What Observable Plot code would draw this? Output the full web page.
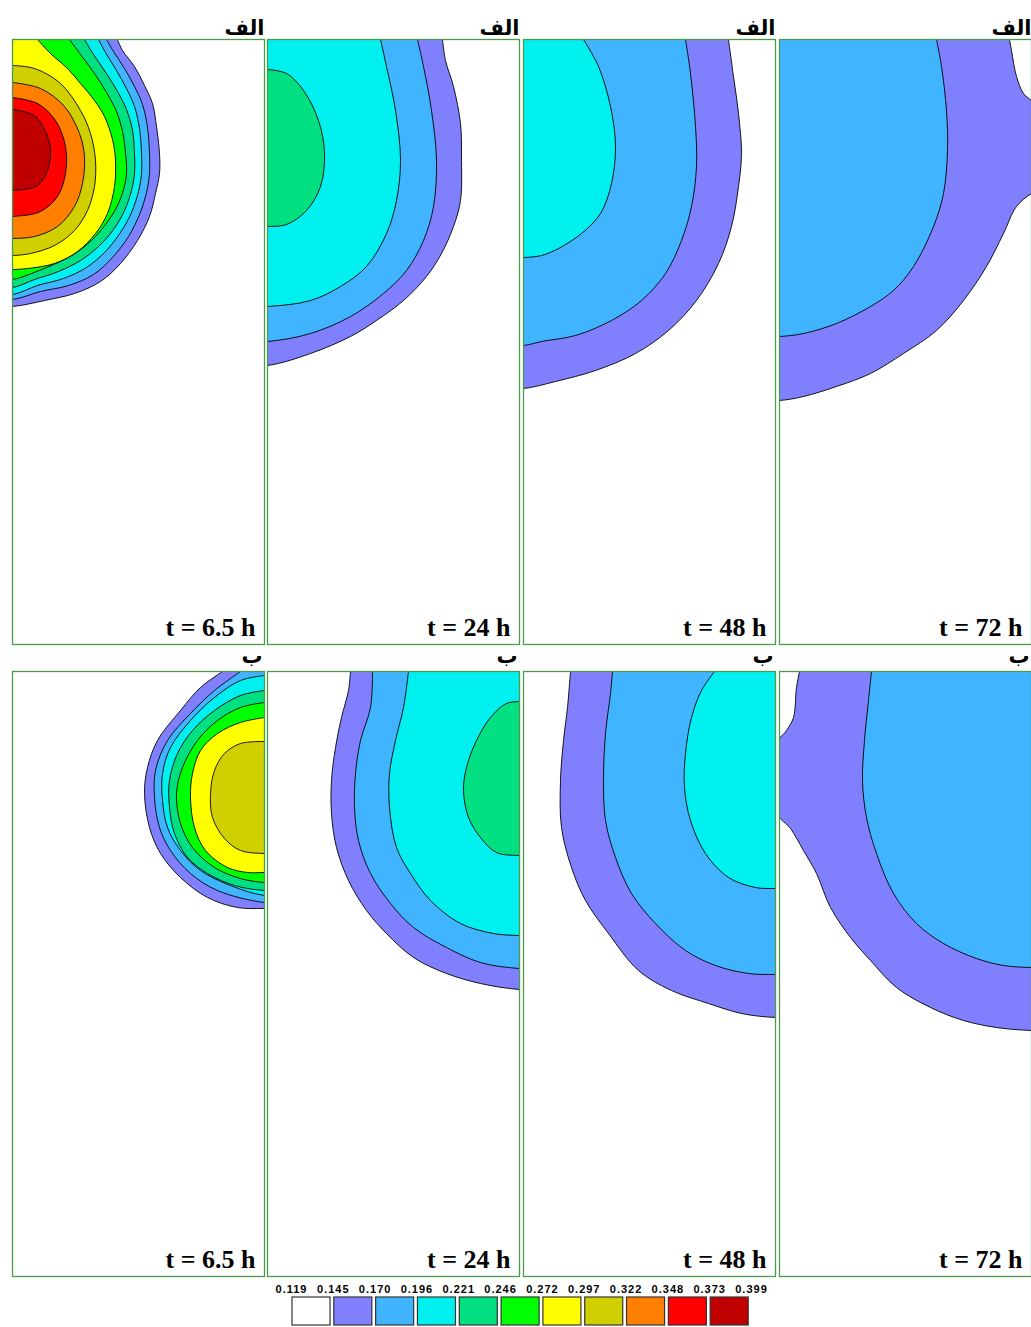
<!DOCTYPE html>
<html><head><meta charset="utf-8">
<script src="https://cdn.jsdelivr.net/npm/d3@7"></script>
<script src="https://cdn.jsdelivr.net/npm/@observablehq/plot@0.6"></script>
<style>
body{margin:0;background:#fff;}
#chart{position:relative;width:1031px;height:1327px;overflow:hidden;background:#fff;}
#chart svg{position:absolute;}
</style></head><body><div id="chart"></div>
<script>
// ---- data ----
const levels = [0.119,0.145,0.170,0.196,0.221,0.246,0.272,0.297,0.322,0.348,0.373,0.399];
const palette = ["#FFFFFF","#8080FF","#40B4FF","#00F0F0","#00E080","#00FF00","#FFFF00","#D0D000","#FF8000","#FF0000","#C00000"];
const times = ["t = 6.5 h","t = 24 h","t = 48 h","t = 72 h"];
const rowLabels = ["الف","ب"];

// contour lines per panel: level = lower bound of the region enclosed; pts = [x, depth] (panel units)
const panelA1 = [
  {level:0.145, close:"TL", pts:[[105,0],[110,11],[122,27],[132,46],[140,64],[144,87],[147,114],[147,134],[143,154],[137,177],[125,201],[108,224],[88,242],[62,254],[32,261],[0,267]]},
  {level:0.170, close:"TL", pts:[[94,0],[101,12],[112,29],[122,47],[130,65],[135,88],[137,114],[137,134],[134,153],[127,175],[116,197],[100,218],[81,235],[56,246],[28,252],[0,260]]},
  {level:0.196, close:"TL", pts:[[86,0],[93,13],[104,31],[114,49],[122,67],[127,89],[129,114],[129,134],[126,152],[119,173],[108,193],[93,212],[74,228],[51,239],[25,246],[0,255]]},
  {level:0.221, close:"TL", pts:[[72,0],[81,15],[94,34],[105,52],[114,70],[120,91],[122,114],[122,134],[119,151],[112,171],[101,190],[86,207],[68,221],[46,232],[22,240],[0,248]]},
  {level:0.246, close:"TL", pts:[[57,0],[68,15],[82,34],[94,53],[104,72],[110,92],[113,114],[114,134],[111,150],[104,168],[93,185],[79,201],[61,215],[41,225],[19,234],[0,240]]},
  {level:0.272, close:"TL", pts:[[25,0],[38,14],[55,29],[68,44],[82,61],[92,77],[100,100],[103,121],[102,147],[95,174],[83,194],[65,212],[42,224],[15,229],[0,230]]},
  {level:0.297, close:"L", pts:[[0,26],[22,29],[48,44],[68,71],[78,94],[83,121],[82,147],[75,171],[62,191],[42,206],[18,214],[0,216]]},
  {level:0.322, close:"L", pts:[[0,43],[28,49],[52,67],[67,94],[72,117],[70,144],[62,167],[45,187],[22,197],[0,199]]},
  {level:0.348, close:"L", pts:[[0,58],[25,64],[43,81],[53,107],[53,134],[45,157],[28,172],[0,177]]},
  {level:0.373, close:"L", pts:[[0,70],[22,76],[33,92],[38,111],[35,131],[25,146],[0,151]]}
];
const panelA2 = [
  {level:0.145, close:"TL", pts:[[175,0],[178,21],[186,47],[193,84],[194,117],[193,161],[186,187],[174,214],[159,237],[136,261],[109,281],[83,297],[43,314],[0,326]]},
  {level:0.170, close:"TL", pts:[[150,0],[156,27],[164,71],[169,121],[166,167],[156,201],[139,231],[116,254],[83,277],[43,294],[0,302]]},
  {level:0.196, close:"TL", pts:[[113,0],[119,27],[128,71],[133,121],[129,161],[119,194],[99,227],[73,247],[43,261],[0,267]]},
  {level:0.221, close:"L", pts:[[0,30],[19,34],[36,51],[51,81],[57,114],[53,147],[39,171],[19,185],[0,187]]}
];
const panelA3 = [
  {level:0.145, close:"TL", pts:[[205,0],[210,37],[215,74],[218,114],[215,147],[208,187],[195,224],[173,261],[145,291],[112,314],[72,331],[32,342],[0,349]]},
  {level:0.170, close:"TL", pts:[[162,0],[167,34],[172,87],[173,127],[168,167],[158,201],[142,234],[118,261],[88,281],[52,296],[18,302],[0,306]]},
  {level:0.196, close:"TL", pts:[[60,0],[75,27],[87,67],[92,107],[88,144],[77,174],[58,194],[35,209],[18,216],[0,218]]}
];
const panelA4 = [
  {level:0.145, close:"TL", pts:[[230,0],[232,11],[237,37],[244,54],[252,61],[262,70],[262,150],[252,154],[237,167],[224,194],[207,227],[184,261],[157,291],[124,314],[91,334],[57,347],[24,357],[0,361]]},
  {level:0.170, close:"TL", pts:[[157,0],[162,27],[167,71],[168,111],[164,154],[154,187],[134,227],[114,251],[91,267],[57,284],[24,294],[0,297]]}
];
const panelB1 = [
  {level:0.145, close:"TR", pts:[[210,0],[188,16],[168,39],[145,69],[135,96],[132,122],[137,156],[148,182],[168,206],[195,226],[225,236],[252,237]]},
  {level:0.170, close:"TR", pts:[[228,0],[202,19],[178,42],[155,69],[143,99],[142,126],[147,156],[158,179],[178,202],[205,219],[252,231]]},
  {level:0.196, close:"R", pts:[[252,4],[228,9],[202,26],[178,49],[158,76],[150,102],[150,129],[155,156],[168,179],[188,199],[218,214],[252,224]]},
  {level:0.221, close:"R", pts:[[252,19],[228,24],[202,39],[180,59],[165,82],[157,109],[157,136],[162,162],[175,186],[195,202],[222,214],[252,219]]},
  {level:0.246, close:"R", pts:[[252,31],[228,36],[205,49],[185,69],[170,96],[164,122],[168,152],[180,176],[202,196],[228,207],[252,211]]},
  {level:0.272, close:"R", pts:[[252,46],[228,51],[205,62],[188,79],[180,102],[178,126],[182,156],[193,179],[215,196],[235,201],[252,201]]},
  {level:0.297, close:"R", pts:[[252,70],[228,72],[212,82],[202,99],[198,122],[200,146],[212,167],[228,179],[252,182]]}
];
const panelB2 = [
  {level:0.145, close:"TR", pts:[[83,0],[81,19],[74,46],[68,76],[64,109],[64,142],[69,176],[81,209],[99,239],[119,262],[146,286],[179,302],[213,312],[252,318]]},
  {level:0.170, close:"TR", pts:[[105,0],[103,36],[93,69],[88,102],[87,136],[91,169],[103,202],[123,232],[146,256],[179,276],[213,291],[252,297]]},
  {level:0.196, close:"TR", pts:[[141,0],[136,36],[128,69],[122,102],[122,136],[129,176],[143,202],[163,229],[193,252],[226,262],[252,264]]},
  {level:0.221, close:"R", pts:[[252,30],[239,32],[223,46],[209,69],[199,96],[196,119],[201,146],[213,166],[229,181],[252,184]]}
];
const panelB3 = [
  {level:0.145, close:"TR", pts:[[47,0],[44,36],[40,69],[37,109],[38,156],[48,196],[62,229],[85,262],[115,299],[148,319],[185,332],[218,342],[252,346]]},
  {level:0.170, close:"TR", pts:[[89,0],[87,22],[82,62],[80,109],[82,149],[92,186],[108,222],[132,252],[162,279],[192,294],[225,302],[252,303]]},
  {level:0.196, close:"TR", pts:[[191,0],[178,19],[168,46],[162,82],[161,116],[167,149],[182,182],[205,206],[232,216],[252,217]]}
];
const panelB4 = [
  {level:0.145, close:"TR", pts:[[20,0],[17,16],[14,46],[7,59],[-2,71],[-2,142],[11,157],[24,179],[37,202],[51,236],[71,266],[91,289],[117,316],[151,336],[184,349],[217,356],[252,359]]},
  {level:0.170, close:"TR", pts:[[92,0],[89,29],[85,69],[83,109],[87,146],[97,182],[114,222],[137,252],[164,272],[197,287],[224,294],[252,296]]}
];

// ---- layout ----
const W = 252, H = 605, OUT = 40;
const colLefts = [11.7, 267.3, 523.3, 779.3];
const rowTops = [39.3, 671];
const rowMarginTop = [30, 26];
const rowLabelDy = [-4.5, -9];
const rowLabelSize = [21, 21];
const root = document.getElementById("chart");

const colorScale = {type: "threshold", domain: levels.slice(1, 11), range: palette};

function ring(c) {
  const p = c.pts, a = p[0], b = p[p.length - 1];
  let ext;
  if (c.close === "TL") ext = [[-OUT, b[1]], [-OUT, -OUT], [a[0], -OUT]];
  else if (c.close === "L") ext = [[-OUT, b[1]], [-OUT, a[1]]];
  else if (c.close === "TR") ext = [[W + OUT, b[1]], [W + OUT, -OUT], [a[0], -OUT]];
  else ext = [[W + OUT, b[1]], [W + OUT, a[1]]];
  return [...p, ...ext, a];
}

function panel(contours, row, col) {
  const mt = rowMarginTop[row];
  const svg = Plot.plot({
    width: W + 2, height: H + mt + 2,
    marginLeft: 1, marginRight: 1, marginTop: mt, marginBottom: 2,
    style: {background: "transparent", overflow: "visible"},
    x: {domain: [0, W], axis: null},
    y: {domain: [0, H], reverse: true, axis: null},
    color: colorScale,
    marks: [
      ...contours.map(c => Plot.line(ring(c), {
        x: d => d[0], y: d => d[1], fill: () => c.level,
        stroke: "#000", strokeWidth: 0.9, curve: "catmull-rom", clip: true
      })),
      Plot.frame({stroke: "#4b9b4b", strokeWidth: 1.3}),
      Plot.text([times[col]], {
        frameAnchor: "bottom-right", textAnchor: "end", lineAnchor: "bottom",
        dx: -9, dy: -9, fontFamily: "Liberation Serif", fontWeight: "bold", fontSize: 26, fill: "#000"
      }),
      Plot.text([rowLabels[row]], {
        frameAnchor: "top-right", textAnchor: "end", lineAnchor: "bottom",
        dx: row === 0 ? 0 : -2, dy: rowLabelDy[row], fontFamily: "DejaVu Sans", fontWeight: "bold",
        fontSize: rowLabelSize[row], fill: "#000"
      })
    ]
  });
  svg.style.left = (colLefts[col] - 1) + "px";
  svg.style.top = (rowTops[row] - mt) + "px";
  root.appendChild(svg);
}

[panelA1, panelA2, panelA3, panelA4].forEach((p, i) => panel(p, 0, i));
[panelB1, panelB2, panelB3, panelB4].forEach((p, i) => panel(p, 1, i));

// ---- legend ----
const bins = d3.range(palette.length).map(i => ({i, lo: levels[i], hi: levels[i + 1]}));
const legend = Plot.plot({
  width: 520, height: 52, marginLeft: 30, marginRight: 30, marginTop: 22, marginBottom: 2,
  style: {background: "transparent", overflow: "visible", letterSpacing: "1px"},
  x: {domain: [0, palette.length], axis: null},
  color: colorScale,
  marks: [
    Plot.rect(bins, {x1: d => d.i, x2: d => d.i + 1, fill: d => d.lo, insetLeft: 1, insetRight: 2.8, stroke: "#333", strokeWidth: 1.2}),
    Plot.text(levels, {x: (d, i) => i, frameAnchor: "top", dy: -12, text: d => d.toFixed(3),
      fontFamily: "Liberation Sans", fontWeight: "bold", fontSize: 11, fill: "#000"})
  ]
});
legend.style.left = (291 - 30) + "px";
legend.style.top = (1297 - 22) + "px";
root.appendChild(legend);
</script>
</body></html>
